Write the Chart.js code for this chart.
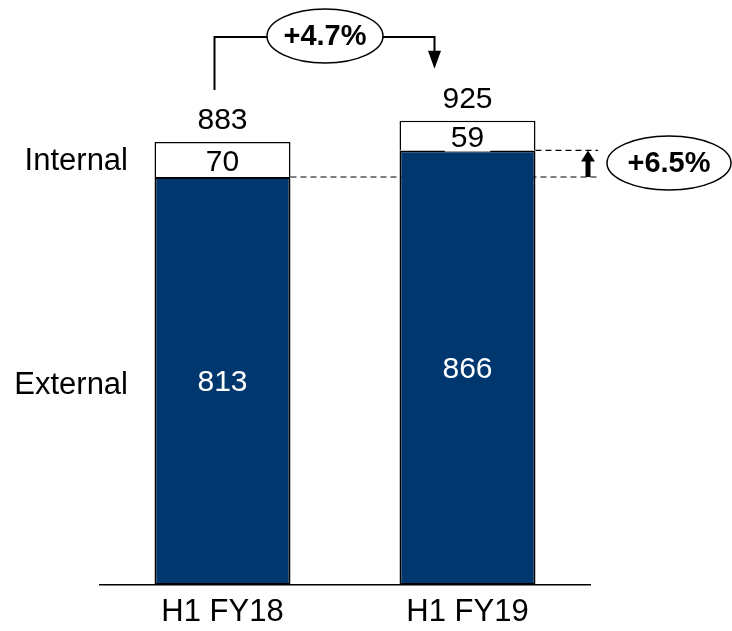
<!DOCTYPE html>
<html lang="en">
<head>
<meta charset="UTF-8">
<title>External / Internal</title>
<script src="https://cdn.jsdelivr.net/npm/chart.js"></script>
<style>
  html, body { margin: 0; padding: 0; background: #fff; }
  .chartBox { width: 732px; height: 631px; }
</style>
</head>
<body>
<div class="chartBox">
  <canvas id="myChart"></canvas>
</div>
<script>
// data block
const categories = ['H1 FY18', 'H1 FY19'];
const external = [813, 866];
const internal = [70, 59];
const totals = [883, 925];
const seriesNames = ['External', 'Internal'];
const growthTotal = '+4.7%';
const growthExternal = '+6.5%';

const navy = '#00376E';
const FONT = '"Liberation Sans", Arial, sans-serif';

function arrowHead(ctx, x, y, dir, w, h) {
  // dir 1 = pointing down, -1 = pointing up; (x,y) is the tip
  ctx.beginPath();
  ctx.moveTo(x, y);
  ctx.lineTo(x - w / 2, y - dir * h);
  ctx.lineTo(x + w / 2, y - dir * h);
  ctx.closePath();
  ctx.fill();
}

function ellipseLabel(ctx, cx, cy, rx, ry, text) {
  ctx.beginPath();
  ctx.ellipse(cx, cy, rx, ry, 0, 0, Math.PI * 2);
  ctx.fillStyle = '#fff';
  ctx.fill();
  ctx.lineWidth = 1.5;
  ctx.strokeStyle = '#000';
  ctx.stroke();
  ctx.fillStyle = '#000';
  ctx.font = 'bold 29px ' + FONT;
  ctx.textAlign = 'center';
  ctx.textBaseline = 'middle';
  ctx.fillText(text, cx, cy + 1);
}

// dashed guide lines go under the bars
const guidePlugin = {
  id: 'guides',
  beforeDatasetsDraw(chart) {
    const ctx = chart.ctx;
    const y = chart.scales.y;
    const ext = chart.getDatasetMeta(0).data;
    const yA = y.getPixelForValue(external[0]);
    const yB = y.getPixelForValue(external[1]);
    ctx.save();
    ctx.strokeStyle = '#000';
    ctx.lineWidth = 1.2;
    ctx.setLineDash([6, 4]);
    ctx.beginPath();
    ctx.moveTo(ext[0].x + ext[0].width / 2, yA);
    ctx.lineTo(598, yA);
    ctx.moveTo(ext[1].x + ext[1].width / 2, yB);
    ctx.lineTo(598, yB);
    ctx.stroke();
    ctx.restore();
  }
};

const labelPlugin = {
  id: 'labels',
  afterDatasetsDraw(chart) {
    const ctx = chart.ctx;
    const y = chart.scales.y;
    const ext = chart.getDatasetMeta(0).data;
    const int = chart.getDatasetMeta(1).data;
    ctx.save();
    ctx.textAlign = 'center';
    ctx.textBaseline = 'middle';
    ctx.font = '30px ' + FONT;

    for (let i = 0; i < categories.length; i++) {
      // external value, white inside navy
      ctx.fillStyle = '#fff';
      ctx.fillText(String(external[i]), ext[i].x, (ext[i].y + ext[i].base) / 2 + 2);
      // internal value with white box behind
      const my = (int[i].y + int[i].base) / 2 + 2;
      const tw = ctx.measureText(String(internal[i])).width;
      ctx.fillStyle = '#fff';
      ctx.fillRect(int[i].x - tw / 2 - 6, my - 14, tw + 12, 28);
      ctx.fillStyle = '#000';
      ctx.fillText(String(internal[i]), int[i].x, my + 1);
      // total above
      ctx.fillText(String(totals[i]), int[i].x, y.getPixelForValue(totals[i]) - 21);
    }

    // series names on the left
    ctx.textAlign = 'right';
    ctx.font = '31px ' + FONT;
    ctx.fillText(seriesNames[1], 128, (int[0].y + int[0].base) / 2 + 2);
    ctx.fillText(seriesNames[0], 128, (ext[0].y + ext[0].base) / 2 + 4);

    // bracket for total growth
    ctx.strokeStyle = '#000';
    ctx.fillStyle = '#000';
    ctx.lineWidth = 2;
    const xl = int[0].x - 8;
    const xr = int[1].x - 33;
    const topY = 37;
    const yl = y.getPixelForValue(totals[0]) - 52;
    const yr = y.getPixelForValue(totals[1]) - 52;
    ctx.beginPath();
    ctx.moveTo(xl, yl);
    ctx.lineTo(xl, topY);
    ctx.lineTo(xr, topY);
    ctx.lineTo(xr, yr - 16);
    ctx.stroke();
    arrowHead(ctx, xr, yr, 1, 13, 18);
    ellipseLabel(ctx, 325, 36, 58, 27, growthTotal);

    // small arrow for external growth
    const ax = 588;
    const yA = y.getPixelForValue(external[0]);
    const yB = y.getPixelForValue(external[1]);
    ctx.fillStyle = '#000';
    ctx.fillRect(ax - 2.5, yB + 9, 5, yA - yB - 9);
    arrowHead(ctx, ax, yB, -1, 14, 11);
    ellipseLabel(ctx, 669, 163, 62, 27, growthExternal);
    ctx.restore();
  }
};

// config block
const data = {
  labels: categories,
  datasets: [
    {
      label: seriesNames[0],
      data: external,
      backgroundColor: navy,
      borderColor: '#000',
      borderWidth: 2,
      borderSkipped: false
    },
    {
      label: seriesNames[1],
      data: internal,
      backgroundColor: '#fff',
      borderColor: '#000',
      borderWidth: 1.5,
      borderSkipped: 'start'
    }
  ]
};

const config = {
  type: 'bar',
  data,
  options: {
    responsive: false,
    animation: false,
    devicePixelRatio: 1,
    maintainAspectRatio: false,
    layout: { padding: { left: 100, right: 142, top: 33, bottom: 0 } },
    datasets: { bar: { barPercentage: 0.555, categoryPercentage: 1 } },
    plugins: { legend: { display: false }, tooltip: { enabled: false } },
    scales: {
      x: {
        stacked: true,
        grid: { display: false, drawTicks: false },
        border: { display: true, color: '#000', width: 1.5 },
        ticks: { color: '#000', font: { family: FONT, size: 31 }, padding: 9 },
        afterFit(scale) { scale.height = 46; }
      },
      y: {
        stacked: true,
        display: false,
        min: 0,
        max: 1100
      }
    }
  },
  plugins: [guidePlugin, labelPlugin]
};

// render block
const canvas = document.getElementById('myChart');
canvas.width = 732;
canvas.height = 631;
const myChart = new Chart(canvas, config);
</script>
</body>
</html>
